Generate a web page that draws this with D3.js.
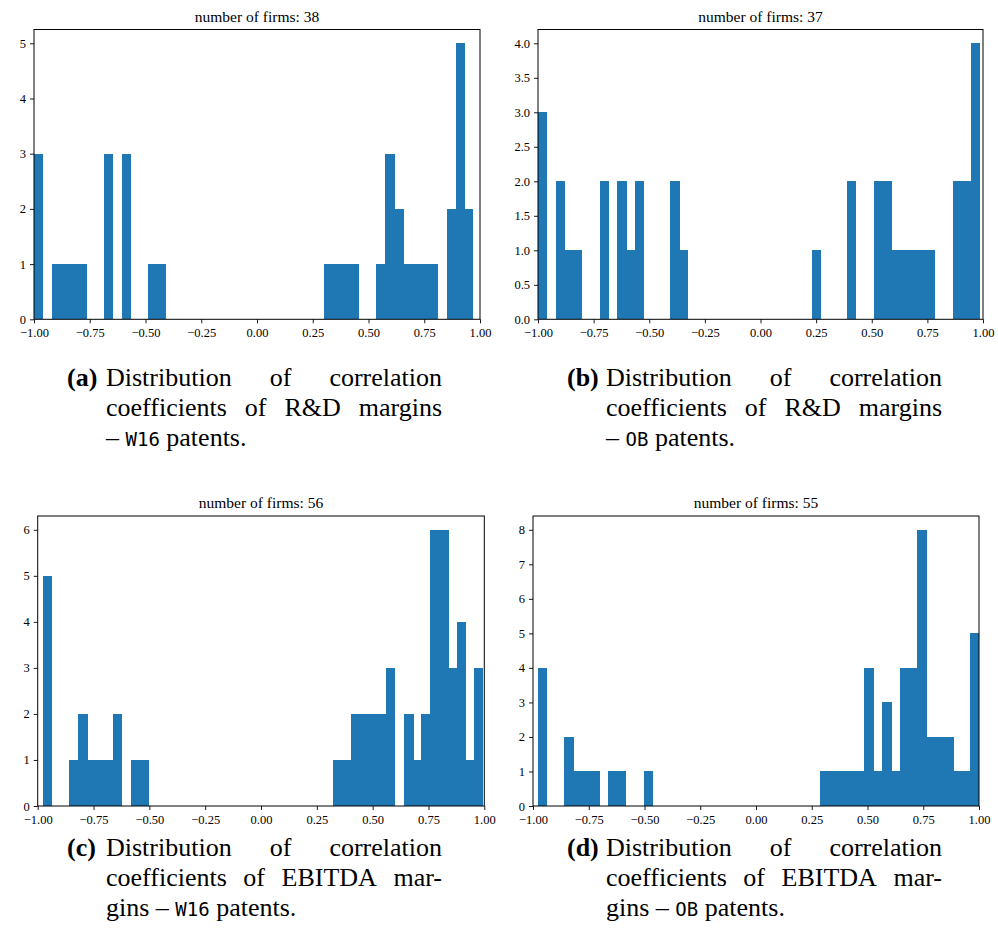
<!DOCTYPE html>
<html>
<head>
<meta charset="utf-8">
<script src="https://cdn.jsdelivr.net/npm/d3@7"></script>
<style>
body { margin: 0; background: #fff; }
</style>
</head>
<body>
<div id="viz-container"></div>
<script>

///////////////////////////////////////////////////////////////////////////
// DATA - counts per bin (50 bins between the min and max correlation)

let countsA = [3,0,1,1,1,1,0,0,3,0, 3,0,0,1,1,0,0,0,0,0, 0,0,0,0,0,0,0,0,0,0,
               0,0,0,1,1,1,1,0,0,1, 3,2,1,1,1,1,0,2,5,2];
let rangeA = [-1.0, 0.969];

let countsB = [3,0,2,1,1,0,0,2,0,2, 1,2,0,0,0,2,1,0,0,0, 0,0,0,0,0,0,0,0,0,0,
               0,1,0,0,0,2,0,0,2,2, 1,1,1,1,1,0,0,2,2,4];
let rangeB = [-1.0, 0.985];

let countsC = [5,0,0,1,2,1,1,1,2,0, 1,1,0,0,0,0,0,0,0,0, 0,0,0,0,0,0,0,0,0,0,
               0,0,0,1,1,2,2,2,2,3, 0,2,1,2,6,6,3,4,1,3];
let rangeC = [-0.976, 0.994];

let countsD = [4,0,0,2,1,1,1,0,1,1, 0,0,1,0,0,0,0,0,0,0, 0,0,0,0,0,0,0,0,0,0,
               0,0,1,1,1,1,1,4,1,3, 1,4,4,8,2,2,2,1,1,5];
let rangeD = [-0.978, 1.0];

let xTickValues = [-1, -0.75, -0.5, -0.25, 0, 0.25, 0.5, 0.75, 1];
let yTicksA = [0, 1, 2, 3, 4, 5];
let yTicksB = [0, 0.5, 1, 1.5, 2, 2.5, 3, 3.5, 4];
let yTicksC = [0, 1, 2, 3, 4, 5, 6];
let yTicksD = [0, 1, 2, 3, 4, 5, 6, 7, 8];

let captionLetters = ["a", "b", "c", "d"];
let captionLinesRD = ["Distribution of correlation", "coefficients of R&D margins"];
let captionLinesEB = ["Distribution of correlation", "coefficients of EBITDA mar-"];
let lastLineW16RD = ["– ", "W16", " patents."];
let lastLineOBRD = ["– ", "OB", " patents."];
let lastLineW16EB = ["gins – ", "W16", " patents."];
let lastLineOBEB = ["gins – ", "OB", " patents."];

///////////////////////////////////////////////////////////////////////////

let w = 998;
let h = 944;
let barColor = "#1f77b4";
let serif = "Liberation Serif";
let mono = "DejaVu Sans Mono";

let viz = d3.select("#viz-container")
              .append("svg")
                .attr("width", w)
                .attr("height", h)
                .attr("font-family", serif)
;

let panels = [
  {counts: countsA, range: rangeA, yTicks: yTicksA, fmt: d3.format("d"),
   left: 34, right: 480, top: 29.5, bottom: 319.3,
   letter: captionLetters[0], lines: captionLinesRD, last: lastLineW16RD, capLeft: 67, capTop: 386},
  {counts: countsB, range: rangeB, yTicks: yTicksB, fmt: d3.format(".1f"),
   left: 538, right: 983, top: 29.5, bottom: 319.3,
   letter: captionLetters[1], lines: captionLinesRD, last: lastLineOBRD, capLeft: 567, capTop: 386},
  {counts: countsC, range: rangeC, yTicks: yTicksC, fmt: d3.format("d"),
   left: 37.7, right: 484.3, top: 516, bottom: 806,
   letter: captionLetters[2], lines: captionLinesEB, last: lastLineW16EB, capLeft: 67, capTop: 856},
  {counts: countsD, range: rangeD, yTicks: yTicksD, fmt: d3.format("d"),
   left: 533, right: 979, top: 516, bottom: 806,
   letter: captionLetters[3], lines: captionLinesEB, last: lastLineOBEB, capLeft: 567, capTop: 856}
];

panels.forEach(drawPanel);

function drawPanel(p){
  let g = viz.append("g");

  let x = d3.scaleLinear().domain([-1, 1]).range([p.left, p.right]);
  let y = d3.scaleLinear().domain([0, d3.max(p.counts) * 1.05]).range([p.bottom, p.top]);

  // bin edges
  let step = (p.range[1] - p.range[0]) / p.counts.length;
  let bins = p.counts.map(function(c, i){
    return {x0: p.range[0] + i * step, x1: p.range[0] + (i + 1) * step, count: c,
            nextFilled: i < p.counts.length - 1 && p.counts[i + 1] > 0};
  });

  g.selectAll(".bar").data(bins.filter(function(d){ return d.count > 0; }))
    .enter()
      .append("rect")
      .attr("class", "bar")
      .attr("x", function(d){ return x(d.x0); })
      .attr("y", function(d){ return y(d.count); })
      // overlap the next bar a little so no seam shows
      .attr("width", function(d){ return x(d.x1) - x(d.x0) + (d.nextFilled ? 1 : 0); })
      .attr("height", function(d){ return y(0) - y(d.count); })
      .attr("fill", barColor)
      .attr("shape-rendering", "crispEdges")
  ;

  // axes
  let xAxis = g.append("g")
      .attr("transform", "translate(0," + p.bottom + ")")
      .call(d3.axisBottom(x).tickValues(xTickValues).tickFormat(d3.format(".2f"))
              .tickSize(4).tickSizeOuter(0).tickPadding(5));
  let yAxis = g.append("g")
      .attr("transform", "translate(" + p.left + ",0)")
      .call(d3.axisLeft(y).tickValues(p.yTicks).tickFormat(p.fmt)
              .tickSize(4).tickSizeOuter(0).tickPadding(4));

  [xAxis, yAxis].forEach(function(a){
    a.attr("font-family", serif).attr("font-size", 12.5);
    a.select(".domain").remove();
    a.selectAll("text").attr("fill", "#000");
    a.selectAll("line").attr("stroke", "#000").attr("stroke-width", 0.9);
  });

  // frame
  g.append("rect")
    .attr("x", p.left)
    .attr("y", p.top)
    .attr("width", p.right - p.left)
    .attr("height", p.bottom - p.top)
    .attr("fill", "none")
    .attr("stroke", "#000")
    .attr("stroke-width", 1)
  ;

  // title
  g.append("text")
    .attr("x", (p.left + p.right) / 2)
    .attr("y", p.top - 8)
    .attr("text-anchor", "middle")
    .attr("font-family", serif)
    .attr("font-size", 15.5)
    .text("number of firms: " + d3.sum(p.counts))
  ;

  drawCaption(p);
}

///////////////////////////////////////////////////////////////////////////
// CAPTIONS - justified lines, last line left aligned

function drawCaption(p){
  let cap = viz.append("g").attr("font-family", serif);
  let colLeft = p.capLeft + 39;
  let colRight = p.capLeft + 375;
  let lineGap = 30;
  let fontSize = 26;

  cap.append("text")
    .attr("x", p.capLeft)
    .attr("y", p.capTop)
    .attr("font-size", fontSize)
    .attr("font-weight", "bold")
    .text("(" + p.letter + ")");

  p.lines.forEach(function(line, li){
    let words = line.split(" ");
    let nodes = words.map(function(word){
      return cap.append("text")
        .attr("y", p.capTop + li * lineGap)
        .attr("font-size", fontSize)
        .text(word);
    });
    let widths = nodes.map(function(n){ return n.node().getComputedTextLength(); });
    let gap = (colRight - colLeft - d3.sum(widths)) / (words.length - 1);
    let pos = colLeft;
    nodes.forEach(function(n, i){
      n.attr("x", pos);
      pos += widths[i] + gap;
    });
  });

  let last = cap.append("text")
    .attr("x", colLeft)
    .attr("y", p.capTop + p.lines.length * lineGap)
    .attr("font-size", fontSize)
    .attr("xml:space", "preserve");
  last.append("tspan").text(p.last[0]);
  last.append("tspan")
    .attr("font-family", mono)
    .attr("font-size", 19)
    .text(p.last[1]);
  last.append("tspan").text(p.last[2]);
}

</script>
</body>
</html>
